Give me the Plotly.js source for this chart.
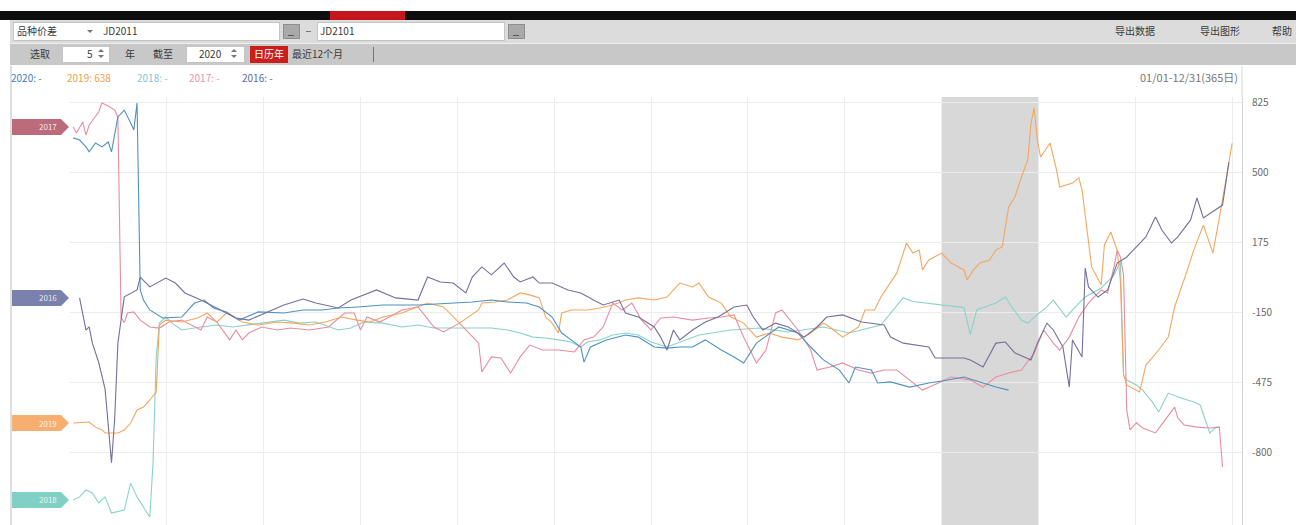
<!DOCTYPE html>
<html><head><meta charset="utf-8">
<script src="https://cdn.plot.ly/plotly-3.0.1.min.js"></script>
<style>
body{margin:0;width:1296px;height:525px;overflow:hidden;background:#fff;font-family:"Noto Sans CJK SC","Liberation Sans",sans-serif;}
#chart{position:absolute;left:0;top:0;width:1296px;height:525px;}
.ui{position:absolute;font-size:10px;color:#3a3a3a;line-height:1;white-space:nowrap;z-index:5;}
.box{position:absolute;background:#fff;border:1px solid #c4c4c4;box-sizing:border-box;z-index:4;}
.btn{position:absolute;background:#a9a9a9;border:1px solid #8e8e8e;box-sizing:border-box;z-index:4;}
.up{position:absolute;width:0;height:0;border-left:3px solid transparent;border-right:3px solid transparent;border-bottom:3px solid #777;z-index:5;}
.dn{position:absolute;width:0;height:0;border-left:3px solid transparent;border-right:3px solid transparent;border-top:3px solid #777;z-index:5;}
.us{position:absolute;height:1px;background:#555;z-index:5;}
</style></head>
<body>
<div id="chart"></div>
<!-- toolbar -->
<div style="position:absolute;left:0;top:11px;width:1296px;height:9px;background:#0e0e0e;z-index:3"></div>
<div style="position:absolute;left:330px;top:11px;width:75px;height:9px;background:#c4161c;z-index:3"></div>
<div style="position:absolute;left:10px;top:20px;width:1286px;height:23px;background:#dcdcdc;z-index:3"></div>
<div style="position:absolute;left:10px;top:43px;width:1286px;height:1px;background:#eeeeee;z-index:3"></div>
<div style="position:absolute;left:10px;top:44px;width:1286px;height:21px;background:#c8c8c8;z-index:3"></div>
<div class="box" style="left:13px;top:22px;width:267px;height:19px"></div>
<div class="ui" style="left:17px;top:26px">品种价差</div>
<div class="dn" style="left:87px;top:30px"></div>
<div class="ui" style="left:103px;top:26px">JD2011</div>
<div class="btn" style="left:283px;top:24px;width:17px;height:15px"></div>
<div class="us" style="left:288px;top:35px;width:6px"></div>
<div class="us" style="left:306px;top:31px;width:5px;background:#777"></div>
<div class="box" style="left:317px;top:22px;width:188px;height:19px"></div>
<div class="ui" style="left:320px;top:26px">JD2101</div>
<div class="btn" style="left:508px;top:24px;width:17px;height:15px"></div>
<div class="us" style="left:513px;top:35px;width:6px"></div>
<div class="ui" style="left:1115px;top:26px">导出数据</div>
<div class="ui" style="left:1200px;top:26px">导出图形</div>
<div class="ui" style="left:1272px;top:26px">帮助</div>
<div class="ui" style="left:30px;top:49px">选取</div>
<div class="box" style="left:62px;top:46px;width:48px;height:17px"></div>
<div class="ui" style="left:87px;top:49px">5</div>
<div class="up" style="left:98px;top:49px"></div>
<div class="dn" style="left:98px;top:55px"></div>
<div class="ui" style="left:125px;top:49px">年</div>
<div class="ui" style="left:153px;top:49px">截至</div>
<div class="box" style="left:186px;top:46px;width:59px;height:17px"></div>
<div class="ui" style="left:199px;top:49px">2020</div>
<div class="up" style="left:231px;top:49px"></div>
<div class="dn" style="left:231px;top:55px"></div>
<div style="position:absolute;left:250px;top:46px;width:38px;height:17px;background:#cc1d1d;z-index:4"></div>
<div class="ui" style="left:254px;top:49px;color:#fff">日历年</div>
<div class="ui" style="left:292px;top:49px">最近12个月</div>
<div style="position:absolute;left:373px;top:47px;width:1px;height:15px;background:#777;z-index:4"></div>
<script>
// ---- data: [day of year, spread value] ----
const s2020 = [[2,663],[4,653],[6,621],[7,598],[9,639],[11,621],[13,644],[14,598],[16,760],[18,792],[20,732],[21,700],[22,825],[23,-43],[24,-90],[26,-136],[30,-173],[36,-169],[40,-104],[43,-90],[46,-127],[50,-145],[54,-183],[60,-145],[68,-150],[74,-136],[80,-136],[85,-127],[91,-122],[99,-113],[110,-113],[120,-104],[127,-99],[133,-90],[138,-99],[144,-104],[148,-122],[152,-169],[155,-243],[158,-275],[161,-308],[162,-378],[164,-308],[169,-275],[175,-252],[179,-262],[184,-308],[188,-313],[192,-308],[196,-308],[200,-275],[205,-322],[209,-354],[212,-382],[216,-290],[223,-215],[229,-243],[233,-308],[237,-368],[242,-415],[245,-475],[247,-401],[252,-415],[254,-475],[258,-470],[264,-494],[270,-475],[276,-461],[281,-447],[287,-475],[291,-494],[295,-508]];
const s2019 = [[2,-661],[7,-656],[9,-680],[11,-693],[12,-707],[14,-707],[16,-707],[18,-693],[20,-661],[22,-600],[24,-587],[26,-554],[28,-517],[29,-206],[31,-183],[36,-192],[41,-173],[44,-150],[47,-192],[50,-150],[55,-192],[60,-206],[66,-192],[71,-197],[76,-206],[81,-192],[86,-169],[91,-183],[95,-192],[99,-169],[105,-150],[113,-104],[118,-122],[123,-197],[129,-136],[130,-104],[134,-99],[138,-90],[142,-57],[145,-66],[148,-80],[150,-169],[152,-197],[154,-243],[155,-150],[158,-136],[163,-136],[167,-127],[171,-113],[175,-90],[179,-80],[184,-90],[188,-76],[192,-11],[196,-29],[198,-11],[201,-76],[205,-104],[208,-169],[212,-197],[216,-262],[220,-243],[224,-262],[229,-275],[233,-243],[237,-197],[239,-215],[243,-262],[248,-215],[250,-136],[253,-136],[255,-76],[258,-11],[260,36],[262,128],[263,175],[265,128],[267,142],[268,50],[270,96],[274,128],[277,82],[281,50],[282,3],[284,50],[286,82],[289,96],[291,142],[293,157],[295,342],[297,389],[299,481],[301,560],[302,732],[303,802],[304,653],[305,574],[307,621],[308,639],[310,514],[311,435],[315,453],[317,477],[318,421],[321,64],[324,-20],[325,166],[327,226],[329,142],[330,3],[331,-438],[332,-484],[336,-517],[338,-392],[342,-322],[345,-262],[347,-122],[351,50],[353,142],[356,258],[359,128],[362,375],[365,638]];
const s2018 = [[2,-1018],[4,-1004],[6,-972],[8,-986],[10,-1032],[12,-1004],[14,-1079],[18,-1065],[20,-940],[22,-1004],[24,-1051],[26,-1097],[27,-846],[28,-354],[29,-197],[31,-169],[33,-197],[36,-229],[42,-215],[47,-206],[52,-215],[57,-206],[63,-192],[68,-183],[73,-197],[78,-192],[85,-229],[89,-220],[93,-192],[99,-197],[105,-215],[110,-206],[115,-220],[120,-220],[127,-220],[133,-220],[138,-229],[142,-243],[146,-262],[150,-266],[154,-275],[158,-285],[161,-308],[163,-285],[167,-275],[171,-252],[175,-243],[179,-252],[183,-285],[188,-308],[198,-252],[208,-229],[217,-220],[226,-238],[237,-215],[245,-243],[255,-206],[259,-136],[262,-79],[265,-97],[273,-111],[281,-125],[283,-250],[285,-136],[291,-104],[294,-76],[296,-122],[299,-183],[301,-197],[303,-169],[307,-122],[309,-90],[313,-169],[315,-136],[317,-104],[319,-76],[322,-53],[324,-34],[328,26],[330,87],[331,-438],[332,-461],[335,-484],[337,-508],[340,-563],[342,-610],[345,-522],[349,-545],[353,-563],[355,-577],[358,-707],[360,-680],[361,-680]];
const s2017 = [[2,714],[3,686],[5,737],[6,676],[7,723],[10,783],[11,825],[13,811],[15,792],[16,760],[17,-170],[18,-195],[19,-150],[21,-145],[23,-183],[26,-215],[29,-220],[32,-192],[36,-183],[42,-229],[44,-169],[47,-192],[51,-275],[53,-229],[55,-275],[57,-243],[61,-215],[66,-229],[70,-220],[76,-229],[82,-215],[87,-150],[90,-150],[92,-229],[94,-169],[98,-192],[101,-169],[105,-136],[110,-122],[115,-215],[118,-238],[123,-197],[126,-243],[129,-290],[130,-424],[133,-354],[136,-359],[139,-429],[142,-354],[145,-299],[149,-322],[154,-322],[159,-331],[162,-275],[165,-262],[168,-215],[171,-104],[174,-136],[177,-104],[180,-183],[183,-229],[186,-173],[190,-169],[196,-183],[201,-173],[205,-169],[209,-159],[212,-262],[216,-382],[219,-322],[222,-150],[224,-136],[229,-229],[233,-322],[235,-415],[239,-401],[243,-382],[248,-415],[252,-429],[256,-415],[260,-415],[264,-461],[268,-508],[273,-475],[277,-447],[283,-461],[287,-494],[291,-447],[295,-429],[299,-415],[303,-336],[306,-229],[309,-290],[311,-322],[314,-262],[317,-169],[320,-104],[324,-43],[326,-57],[328,64],[329,142],[330,110],[331,26],[332,-600],[333,-693],[335,-660],[337,-684],[341,-707],[344,-647],[347,-587],[348,-638],[350,-670],[354,-680],[358,-684],[361,-680],[362,-865]];
const s2016 = [[4,-80],[6,-230],[7,-215],[8,-290],[10,-380],[12,-505],[14,-845],[15,-640],[16,-290],[18,-75],[22,-43],[23,17],[26,-29],[29,-6],[31,12],[34,-11],[37,-57],[42,-90],[47,-127],[53,-173],[57,-183],[63,-145],[68,-113],[74,-85],[78,-104],[85,-127],[89,-90],[97,-43],[103,-80],[110,-90],[113,17],[117,-6],[121,-11],[125,-57],[127,17],[130,64],[133,27],[137,82],[140,17],[142,-6],[146,17],[148,-11],[152,-11],[157,-43],[161,-57],[165,-90],[168,-113],[173,-90],[175,-150],[179,-169],[184,-215],[186,-262],[188,-322],[190,-229],[192,-275],[196,-229],[200,-192],[204,-169],[209,-122],[213,-113],[215,-169],[218,-229],[222,-197],[226,-215],[231,-262],[235,-215],[238,-169],[243,-159],[249,-192],[256,-206],[258,-262],[262,-290],[270,-308],[272,-359],[281,-359],[283,-368],[287,-401],[291,-290],[294,-285],[297,-336],[302,-368],[304,-290],[307,-197],[309,-229],[312,-308],[314,-494],[315,-275],[318,-354],[319,59],[320,-29],[323,-76],[326,-43],[329,82],[332,110],[335,157],[338,203],[341,296],[343,235],[346,175],[348,203],[352,282],[354,384],[356,291],[359,319],[362,351],[364,549]];
const yTicks = [825, 500, 175, -150, -475, -800];
const years = ['2020', '2019', '2018', '2017', '2016'];
const dateLabel = '01/01-12/31(365日)';
const shadeDays = [274, 304.3];

// ---- styling ----
const Y_RANGE = [-1134.4, 852.8];
const X_RANGE = [1, 368.1];
const W = 1296, H = 525, ML = 70, MR = 54, MT = 97;
const PW = W - ML - MR, PH = H - MT;
const px2x = p => (p - ML) / PW;
const py2y = p => (H - p) / PH;
const v2y = v => (v - Y_RANGE[0]) / (Y_RANGE[1] - Y_RANGE[0]);

const series = {'2020': s2020, '2019': s2019, '2018': s2018, '2017': s2017, '2016': s2016};
const lineColor = {'2020':'#4f91c0','2019':'#f4a65e','2018':'#8ad2c8','2017':'#e98d9e','2016':'#72709c'};
const legendColor = {'2020':'#3d7fc1','2019':'#f0a050','2018':'#80c6dd','2017':'#e797ad','2016':'#6069a0'};
const tagColor = {'2017':'#b55b6c','2016':'#6c73a3','2019':'#f5a660','2018':'#72cbc0'};
const drawOrder = ['2018','2017','2019','2020','2016'];

const traces = drawOrder.map(yr => ({
  type:'scatter', mode:'lines', name:yr,
  x: series[yr].map(p => p[0]), y: series[yr].map(p => p[1]),
  line:{color:lineColor[yr], width:1.1}, hoverinfo:'skip'
}));

const gridDays = Array.from({length:13}, (_, k) => 1 + k * 364 / 12);

const shapes = [
  {type:'rect', xref:'x', yref:'paper', x0:shadeDays[0], x1:shadeDays[1], y0:0, y1:1,
   fillcolor:'#d8d8d8', line:{width:0}, layer:'between'},
  {type:'line', xref:'paper', yref:'paper', x0:1, x1:1, y0:1, y1:py2y(66), line:{color:'#d4d4d4', width:1}},
  {type:'line', xref:'paper', yref:'paper', x0:px2x(11), x1:px2x(11), y0:0, y1:py2y(66), line:{color:'#bcbcbc', width:1}}
];
const annotations = [];
['2017','2016','2019','2018'].forEach(yr => {
  const v = series[yr][0][1];
  const cy = v2y(v), h = 8 / PH;
  const xa = px2x(12), xb = px2x(61), xc = px2x(69);
  shapes.push({type:'path', xref:'paper', yref:'paper',
    path:`M ${xa},${cy+h} L ${xb},${cy+h} L ${xc},${cy} L ${xb},${cy-h} L ${xa},${cy-h} Z`,
    fillcolor:tagColor[yr], line:{width:0}, opacity:0.9});
  annotations.push({xref:'paper', yref:'paper', x:px2x(48), y:cy, text:yr, showarrow:false,
    xanchor:'center', yanchor:'middle', font:{size:8, color:'rgba(255,255,255,0.85)'}});
});
const legendX = [9, 65, 135, 187, 240];
years.forEach((yr, i) => {
  const last = series[yr][series[yr].length - 1][1];
  const readout = yr === '2019' ? String(last) : '-';
  annotations.push({xref:'paper', yref:'paper', x:px2x(legendX[i]), y:py2y(77), text:yr + ': ' + readout,
    showarrow:false, xanchor:'left', yanchor:'middle', font:{size:10, color:legendColor[yr]}});
});
annotations.push({xref:'paper', yref:'paper', x:px2x(1240), y:py2y(77), text:dateLabel, showarrow:false,
  xanchor:'right', yanchor:'middle', font:{size:11, color:'#777'}});

const layout = {
  width:W, height:H,
  margin:{l:ML, r:MR, t:MT, b:0, pad:0},
  paper_bgcolor:'rgba(0,0,0,0)', plot_bgcolor:'rgba(0,0,0,0)',
  showlegend:false,
  font:{family:'Noto Sans CJK SC, Liberation Sans, sans-serif'},
  xaxis:{range:X_RANGE, tickvals:gridDays, showticklabels:false, showgrid:true, gridcolor:'#ececec',
    gridwidth:1, zeroline:false, showline:false, ticks:'', fixedrange:true},
  yaxis:{range:Y_RANGE, side:'right', tickvals:yTicks, ticktext:yTicks.map(String), showgrid:true,
    gridcolor:'#ececec', zeroline:false, showline:true, linecolor:'#d4d4d4', ticks:'',
    tickfont:{size:10, color:'#6a6a6a'}, ticklabelstandoff:7, fixedrange:true},
  shapes, annotations
};
Plotly.newPlot('chart', traces, layout, {displayModeBar:false, staticPlot:true});
</script>
</body></html>
